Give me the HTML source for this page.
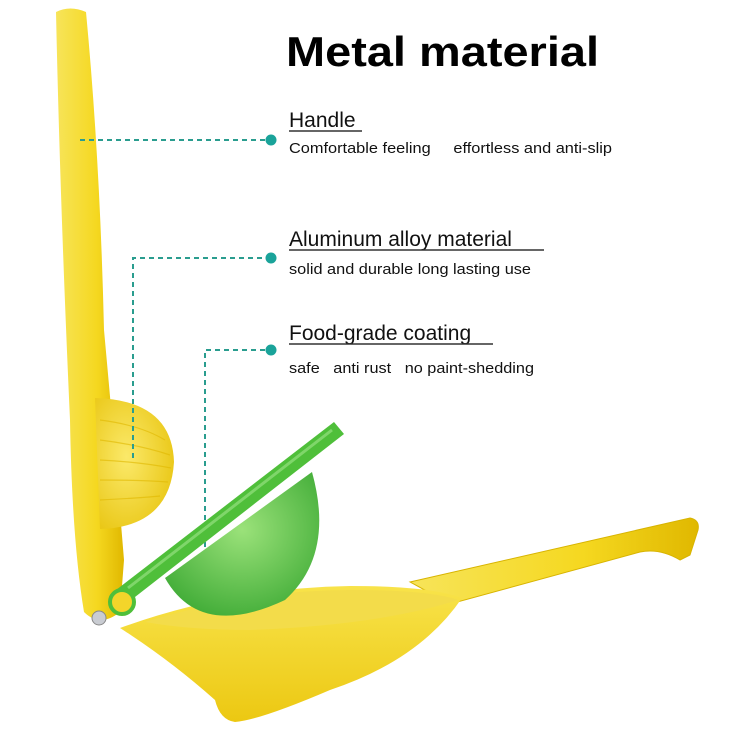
<!DOCTYPE html>
<html><head><style>
body{margin:0;width:750px;height:750px;background:#fff;overflow:hidden;font-family:"Liberation Sans",sans-serif}
</style></head><body>
<svg width="750" height="750" xmlns="http://www.w3.org/2000/svg">
<defs>
<linearGradient id="y1" x1="0" x2="1"><stop offset="0" stop-color="#f7e45a"/><stop offset="0.6" stop-color="#f5d820"/><stop offset="1" stop-color="#e0b800"/></linearGradient>
<radialGradient id="ys" cx="0.4" cy="0.45" r="0.7"><stop offset="0" stop-color="#fbe96a"/><stop offset="1" stop-color="#e8c40e"/></radialGradient>
<radialGradient id="gs" cx="0.5" cy="0.4" r="0.7"><stop offset="0" stop-color="#9be27a"/><stop offset="1" stop-color="#3aa832"/></radialGradient>
<linearGradient id="yb" x1="0" y1="0" x2="0" y2="1"><stop offset="0" stop-color="#f8e34a"/><stop offset="1" stop-color="#ecc812"/></linearGradient>
</defs>
<text x="286" y="66" font-size="42" font-weight="bold" fill="#000" textLength="313" lengthAdjust="spacingAndGlyphs">Metal material</text>
<g font-size="21" fill="#111" font-weight="500">
<text x="289" y="127">Handle</text>
<text x="289" y="246">Aluminum alloy material</text>
<text x="289" y="340">Food-grade coating</text>
</g>
<g stroke="#333" stroke-width="1.5">
<line x1="289" y1="131" x2="362" y2="131"/>
<line x1="289" y1="250" x2="544" y2="250"/>
<line x1="289" y1="344" x2="493" y2="344"/>
</g>
<g font-size="15" fill="#111">
<text x="289" y="153" xml:space="preserve" textLength="323" lengthAdjust="spacingAndGlyphs">Comfortable feeling     effortless and anti-slip</text>
<text x="289" y="274" textLength="242" lengthAdjust="spacingAndGlyphs">solid and durable long lasting use</text>
<text x="289" y="373" xml:space="preserve" textLength="245" lengthAdjust="spacingAndGlyphs">safe   anti rust   no paint-shedding</text>
</g>
<path d="M410,582 L690,518 Q700,520 698,530 L690,555 L680,560 Q660,548 640,552 L450,604 Z" fill="url(#y1)" stroke="#d8b400" stroke-width="1"/>
<path d="M120,628 Q230,588 350,586 Q430,586 462,598 Q420,660 330,690 Q260,720 235,722 Q220,720 215,700 Q170,660 120,628 Z" fill="url(#yb)"/>
<path d="M145,622 Q250,590 350,590 Q430,590 458,600 Q380,625 250,630 Q190,630 145,622Z" fill="#f3dc4a"/>
<path d="M56,12 Q70,5 86,12 Q100,160 104,330 Q115,450 124,560 L120,612 Q100,628 84,612 Q72,540 70,420 Q60,200 56,12 Z" fill="url(#y1)"/>
<path d="M95,398 Q172,400 174,462 Q170,527 100,529 Z" fill="url(#ys)"/>
<g stroke="#e0b800" stroke-width="1.2" fill="none" opacity="0.6">
<path d="M100,420 Q140,425 165,440"/><path d="M100,440 Q140,445 170,455"/><path d="M100,460 Q140,462 171,468"/><path d="M100,480 Q140,480 168,482"/><path d="M100,500 Q140,498 160,496"/>
</g>
<g stroke="#2a9d8f" stroke-width="2" stroke-dasharray="5,4" fill="none">
<path d="M80,140 H270"/>
<path d="M133,458 V258 H270"/>
<path d="M205,565 V350 H270"/>
</g>
<g fill="#1aa39a"><circle cx="271" cy="140" r="5.5"/><circle cx="271" cy="258" r="5.5"/><circle cx="271" cy="350" r="5.5"/></g>
<path d="M165,578 Q200,640 285,600 Q335,555 312,472 Z" fill="url(#gs)"/>
<path d="M116,590 L334,422 L344,434 L126,604 Z" fill="#4fbf3a"/>
<path d="M128,588 L332,430" stroke="#7fd66a" stroke-width="3"/>
<circle cx="122" cy="602" r="12" fill="#f3d52a" stroke="#4fbf3a" stroke-width="4"/>
<circle cx="99" cy="618" r="7" fill="#c9ccd2" stroke="#888" stroke-width="1"/>
</svg>
</body></html>
